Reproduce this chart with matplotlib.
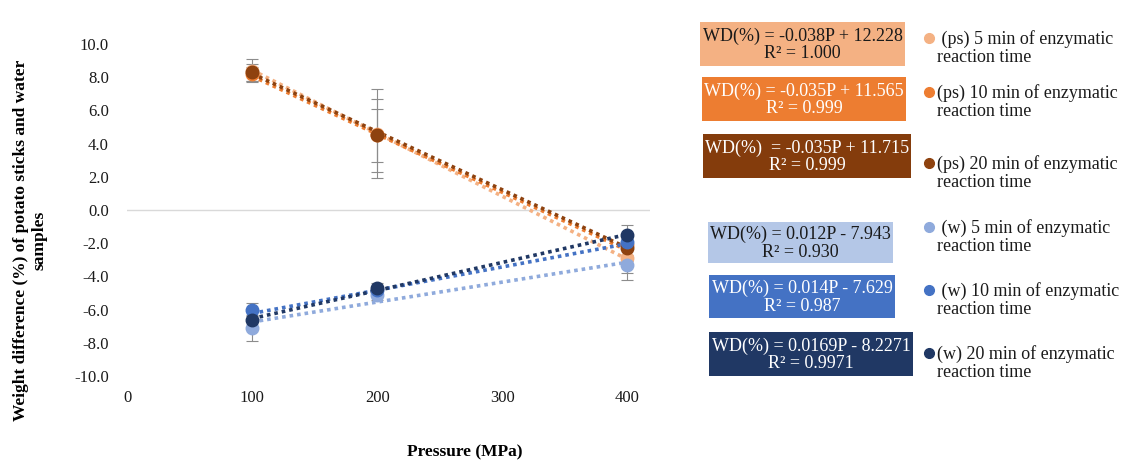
import numpy as np
import matplotlib
matplotlib.use("Agg")
import matplotlib.pyplot as plt
from matplotlib.patches import Rectangle

plt.rcParams['font.family'] = ['Liberation Serif', 'DejaVu Serif']

# data
pressure = [100, 200, 400]
series_names = [" (ps) 5 min of enzymatic\nreaction time",
                "(ps) 10 min of enzymatic\nreaction time",
                "(ps) 20 min of enzymatic\nreaction time",
                " (w) 5 min of enzymatic\nreaction time",
                " (w) 10 min of enzymatic\nreaction time",
                "(w) 20 min of enzymatic\nreaction time"]
ps5 = [8.4, 4.6, -2.9]
ps10 = [8.2, 4.5, -2.1]
ps20 = [8.3, 4.5, -2.3]
w5 = [-7.1, -5.1, -3.3]
w10 = [-6.0, -4.8, -1.9]
w20 = [-6.6, -4.7, -1.5]
err_ps5 = [0.7, 2.7, 0.9]
err_ps10 = [0.4, 1.6, 0.6]
err_ps20 = [0.5, 2.2, 0.8]
err_w5 = [0.8, 0.3, 0.9]
err_w10 = [0.4, 0.2, 0.5]
err_w20 = [0.6, 0.3, 0.6]
slopes = [-0.038, -0.035, -0.035, 0.012, 0.014, 0.0169]
intercepts = [12.228, 11.565, 11.715, -7.943, -7.629, -8.2271]
equations = ["WD(%) = -0.038P + 12.228\nR² = 1.000",
             "WD(%) = -0.035P + 11.565\nR² = 0.999",
             "WD(%)  = -0.035P + 11.715\nR² = 0.999",
             "WD(%) = 0.012P - 7.943\nR² = 0.930",
             "WD(%) = 0.014P - 7.629\nR² = 0.987",
             "WD(%) = 0.0169P - 8.2271\nR² = 0.9971"]

values = [ps5, ps10, ps20, w5, w10, w20]
errors = [err_ps5, err_ps10, err_ps20, err_w5, err_w10, err_w20]
colors = ["#F4B183", "#ED7D31", "#8E420F", "#8FAADC", "#4472C4", "#203864"]
box_colors = ["#F4B183", "#ED7D31", "#843C0C", "#B4C7E7", "#4472C4", "#203864"]
text_colors = ["#1a1a1a", "white", "white", "#1a1a1a", "white", "white"]

W, H = 1126, 467
fig = plt.figure(figsize=(W / 100, H / 100), dpi=100)
ax = fig.add_axes([127 / W, 1 - 376 / H, 523 / W, 332 / H])

ax.axhline(0, color="#d9d9d9", lw=1, zorder=0)
for i in range(6):
    ax.errorbar(pressure, values[i], yerr=errors[i], fmt="none",
                ecolor="#8c8c8c", elinewidth=0.8, capsize=4, capthick=0.8, zorder=2)
for i in range(6):
    xs = np.array([pressure[0], pressure[-1]])
    ax.plot(xs, slopes[i] * xs + intercepts[i], color=colors[i],
            lw=2.6, linestyle=(0, (1, 1.1)), zorder=3)
for i in range(6):
    ax.plot(pressure, values[i], "o", color=colors[i], ms=9, zorder=4)

ax.set_xlim(0, 418)
ax.set_ylim(-10, 10)
ax.set_xticks([0, 100, 200, 300, 400])
ax.set_yticks(np.arange(-10, 10.1, 2))
ax.set_yticklabels([f"{v:.1f}" for v in np.arange(-10, 10.1, 2)])
ax.tick_params(length=0, labelsize=12, colors="#1a1a1a")
ax.tick_params(axis="x", pad=10)
ax.tick_params(axis="y", pad=13)
for s in ax.spines.values():
    s.set_visible(False)

fig.text(465 / W, 1 - 452 / H, "Pressure (MPa)", ha="center", va="center",
         fontsize=12.5, fontweight="bold")
fig.text(30 / W, 1 - 240 / H,
         "Weight difference (%) of potato sticks and water\nsamples",
         ha="center", va="center", rotation=90, fontsize=12.5,
         fontweight="bold", multialignment="center")

# right hand legend panel, in pixel coordinates
lg = fig.add_axes([0, 0, 1, 1])
lg.set_xlim(0, W)
lg.set_ylim(H, 0)
lg.axis("off")
boxes = [(700, 22, 205, 44), (702, 77, 204, 44), (703, 134, 208, 44),
         (708, 222, 185, 41), (709, 275, 186, 43), (709, 332, 204, 44)]
entry_y = [48, 102, 173, 237, 300, 363]
for i in range(6):
    bx, by, bw, bh = boxes[i]
    lg.add_patch(Rectangle((bx, by), bw, bh, facecolor=box_colors[i],
                           edgecolor="none"))
    lg.text(bx + bw / 2, by + bh / 2 + 1, equations[i], ha="center", va="center",
            fontsize=13, color=text_colors[i], linespacing=1.05)
    lg.plot([929], [entry_y[i] - 10], "o", color=colors[i], ms=7)
    lg.text(937, entry_y[i], series_names[i], ha="left", va="center",
            fontsize=13, color="#1a1a1a", linespacing=1.1)

fig.savefig("out.png", dpi=100)
